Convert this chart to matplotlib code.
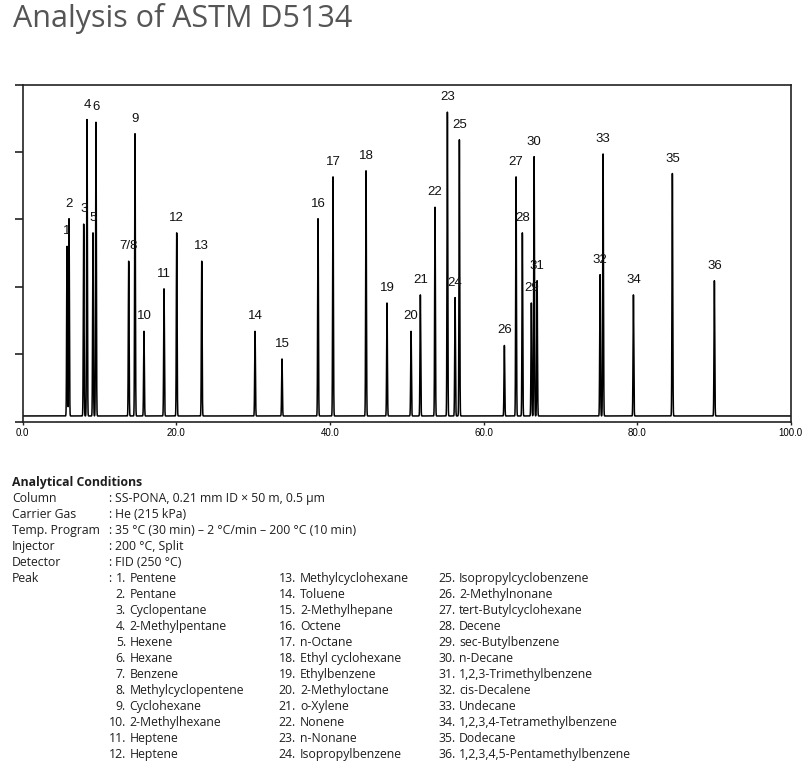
import numpy as np
import matplotlib.pyplot as plt

# peak labels, retention times (min) and apex heights (axis units, 5 = top of frame)
peak_labels = ["1", "2", "3", "4", "5", "6", "7/8", "9", "10", "11", "12", "13",
               "14", "15", "16", "17", "18", "19", "20", "21", "22", "23", "24", "25",
               "26", "27", "28", "29", "30", "31", "32", "33", "34", "35", "36"]
retention = [5.77, 6.03, 7.94, 8.37, 9.15, 9.54, 13.80, 14.62, 15.79, 18.40, 20.05, 23.31,
             30.25, 33.76, 38.45, 40.40, 44.70, 47.43, 50.56, 51.77, 53.68, 55.29, 56.29, 56.85,
             62.71, 64.23, 65.05, 66.22, 66.58, 66.97, 75.17, 75.56, 79.51, 84.58, 90.05]
heights = [2.60, 3.01, 2.93, 4.48, 2.80, 4.44, 2.38, 4.27, 1.34, 1.97, 2.80, 2.38,
           1.34, 0.93, 3.01, 3.63, 3.72, 1.76, 1.34, 1.88, 3.18, 4.59, 1.84, 4.18,
           1.13, 3.63, 2.80, 1.76, 3.93, 2.09, 2.18, 3.97, 1.88, 3.68, 2.09]
baseline = 0.085
x_ticks = [0, 20, 40, 60, 80, 100]

cond_names = ["Column", "Carrier Gas", "Temp. Program", "Injector", "Detector", "Peak"]
cond_values = ["SS-PONA, 0.21 mm ID \u00d7 50 m, 0.5 \u03bcm",
               "He (215 kPa)",
               "35 \u00b0C (30 min) \u2013 2 \u00b0C/min \u2013 200 \u00b0C (10 min)",
               "200 \u00b0C, Split",
               "FID (250 \u00b0C)"]
compounds = ["Pentene", "Pentane", "Cyclopentane", "2-Methylpentane", "Hexene", "Hexane",
             "Benzene", "Methylcyclopentene", "Cyclohexane", "2-Methylhexane", "Heptene", "Heptene",
             "Methylcyclohexane", "Toluene", "2-Methylhepane", "Octene", "n-Octane",
             "Ethyl cyclohexane", "Ethylbenzene", "2-Methyloctane", "o-Xylene", "Nonene",
             "n-Nonane", "Isopropylbenzene", "Isopropylcyclobenzene", "2-Methylnonane",
             "tert-Butylcyclohexane", "Decene", "sec-Butylbenzene", "n-Decane",
             "1,2,3-Trimethylbenzene", "cis-Decalene", "Undecane", "1,2,3,4-Tetramethylbenzene",
             "Dodecane", "1,2,3,4,5-Pentamethylbenzene"]


def chromatogram(t, rts, hs, base, sigma=0.048):
    # sum of narrow gaussians sitting on a flat baseline
    y = np.full_like(t, base)
    for rt, h in zip(rts, hs):
        y += (h - base) * np.exp(-(t - rt) ** 2 / (2 * sigma ** 2))
    return y


W, H = 812, 771
fig = plt.figure(figsize=(W / 100, H / 100), dpi=100)

def fx(px):
    return px / W

def fy(py):
    return 1 - py / H

ax = fig.add_axes([fx(22.7), fy(421.7), fx(790.8 - 22.7), (421.7 - 84.5) / H])

t = np.linspace(0, 100, 40001)
ax.plot(t, chromatogram(t, retention, heights, baseline), color="black", lw=1.1)

for lab, rt, h in zip(peak_labels, retention, heights):
    ax.annotate(lab, (rt, h), xytext=(0, 15 / 1.389), textcoords="offset points",
                ha="center", va="center", fontsize=9.5, family="Liberation Sans",
                color="#111111")

ax.set_xlim(0, 100)
ax.set_ylim(0, 5)
ax.set_xticks(x_ticks)
ax.set_xticklabels([f"{v:.1f}" for v in x_ticks], fontsize=7, family="Liberation Sans")
ax.set_yticks(range(6))
ax.set_yticklabels([])
ax.tick_params(axis="x", length=2.5, width=1.0, pad=2, color="#222222")
ax.tick_params(axis="y", length=6, width=1.2, color="#222222")
for sp in ax.spines.values():
    sp.set_linewidth(1.2)
    sp.set_color("#222222")

# title
fig.text(fx(12.7), fy(27.3), "Analysis of ASTM D5134", fontsize=22, family="Open Sans",
         color="#555555", va="baseline", ha="left")

# analytical conditions block
txt = dict(fontsize=8.8, family="Open Sans", color="#1e1e1e", va="baseline")
base0, step = 486, 16
fig.text(fx(12), fy(base0), "Analytical Conditions", fontweight="bold", **txt)
for i, name in enumerate(cond_names):
    yb = fy(base0 + step * (i + 1))
    fig.text(fx(12), yb, name, ha="left", **txt)
    fig.text(fx(107.7), yb, ":", ha="left", **txt)
    if i < len(cond_values):
        fig.text(fx(115), yb, cond_values[i], ha="left", **txt)

col_num_x = [126, 296, 455.5]
col_name_x = [129.7, 300, 459]
for k, name in enumerate(compounds):
    col, row = divmod(k, 12)
    yb = fy(base0 + step * (6 + row))
    fig.text(fx(col_num_x[col]), yb, f"{k + 1}.", ha="right", **txt)
    fig.text(fx(col_name_x[col]), yb, name, ha="left", **txt)

fig.savefig("out.png", dpi=100)
